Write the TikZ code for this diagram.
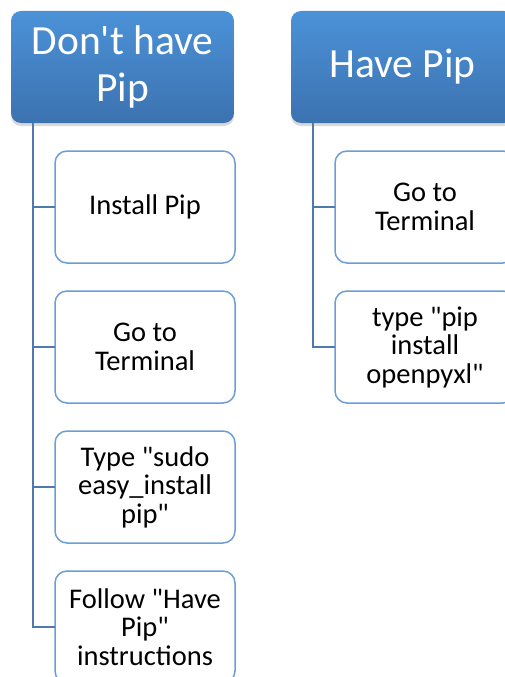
\documentclass[tikz,border=0pt]{standalone}
\usepackage{fontspec}
\setmainfont{Carlito}
\usetikzlibrary{positioning,shadows}
\definecolor{headtop}{RGB}{75,146,216}
\definecolor{headbot}{RGB}{60,114,176}
\definecolor{taskline}{RGB}{108,157,212}
\definecolor{linkline}{RGB}{78,122,174}

\begin{document}
\begin{tikzpicture}[x=1pt, y=1pt, node distance=28pt,
  headbox/.style={rectangle, rounded corners=10pt, top color=headtop, bottom color=headbot, text=white, minimum width=223pt, minimum height=112pt, text width=200pt, align=flush center, inner sep=0pt, outer sep=0pt, font=\fontsize{41.5}{46.5}\selectfont, drop shadow={shadow xshift=0pt, shadow yshift=-3pt, opacity=0.3}},
  taskbox/.style={draw=taskline, line width=1.5pt, fill=white, rounded corners=12pt, minimum width=180pt, minimum height=112pt, text width=160pt, align=flush center, inner sep=0pt, outer sep=0pt, font=\fontsize{28.5}{28.5}\selectfont},
  link/.style={draw=linkline, line width=2pt}]

\useasboundingbox (0,0) rectangle (505,-677);
\clip (0,0) rectangle (505,-677);

\def\spine{22pt}
\def\q{\textquotedbl}
  % Nodes
  \node (nopip) [headbox] at (122.5,-67) {Don\textquotesingle t have Pip};
  \node (install) [taskbox, below right=28pt and 44pt of nopip.south west] {Install Pip};
  \node (terminal1) [below of=install, taskbox, node distance=140pt] {Go to Terminal};
  \node (sudo) [below of=terminal1, taskbox, node distance=140pt] {Type \q sudo easy\_install pip\q};
  \node (follow) [below of=sudo, taskbox, node distance=140pt] {Follow \q Have Pip\q{} instructions};

  % Arrows
  \draw[link] ([xshift=\spine]nopip.south west) |- (install.west);
  \draw[link] ([xshift=\spine]nopip.south west) |- (terminal1.west);
  \draw[link] ([xshift=\spine]nopip.south west) |- (sudo.west);
  \draw[link] ([xshift=\spine]nopip.south west) |- (follow.west);

  % Second column
  \node (havepip) [headbox] at (402.5,-67) {Have Pip};
  \node (terminal2) [taskbox, below right=28pt and 44pt of havepip.south west] {Go to Terminal};
  \node (openpyxl) [below of=terminal2, taskbox, node distance=140pt] {type \q pip install openpyxl\q};

  \draw[link] ([xshift=\spine]havepip.south west) |- (terminal2.west);
  \draw[link] ([xshift=\spine]havepip.south west) |- (openpyxl.west);

\end{tikzpicture}
\end{document}
